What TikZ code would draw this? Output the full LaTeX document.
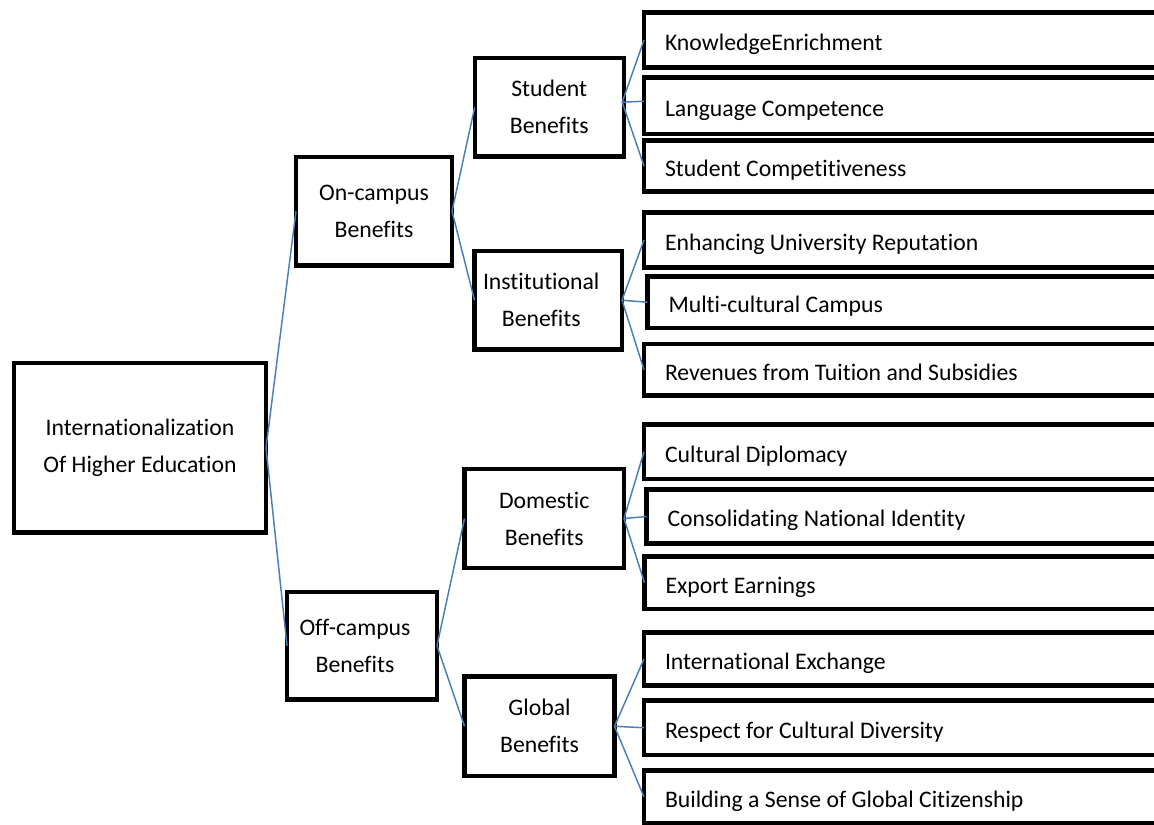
\documentclass[tikz,border=0pt]{standalone}
\usepackage{fontspec}
\setmainfont{Carlito}[Ligatures=NoCommon]
\usetikzlibrary{calc}
\definecolor{connblue}{HTML}{4A7EBB}
\begin{document}
\begin{tikzpicture}[x=0.75pt,y=-0.75pt,
  every node/.style={font=\fontsize{17.8}{27.75}\selectfont},
  box/.style={draw=black, line width=3.3pt, outer sep=0pt, inner sep=0pt, align=center, fill=white},
  leaf/.style={draw=black, line width=3.3pt, outer sep=0pt, inner xsep=15.75pt, inner ysep=0pt,
    anchor=west, text width=420pt, align=flush left, fill=white, text height=15.8pt, text depth=0.3pt},
  conn/.style={draw=connblue, line width=1.1pt}
]
\useasboundingbox (0,0) rectangle (1154,825);
\fill[white] (0,0) rectangle (1154,825);
\begin{scope}
\clip (0,0) rectangle (1154,825);
% main boxes
\node[box, minimum width=252*0.75pt, minimum height=169.5*0.75pt] (root) at (140,447.75) {Internationalization\\Of Higher Education};
\node[box, minimum width=156*0.75pt, minimum height=108.5*0.75pt] (on) at (374,211.25) {On-campus\\Benefits};
\node[box, minimum width=150*0.75pt, minimum height=107.5*0.75pt] (off) at (362,645.75) {\hspace*{-10.5pt}Off-campus\\\hspace*{-10.5pt}Benefits};
\node[box, minimum width=149*0.75pt, minimum height=98.3*0.75pt] (sb) at (549.2,107.15) {Student\\Benefits};
\node[box, minimum width=147.5*0.75pt, minimum height=98.5*0.75pt] (ib) at (548.25,300.25) {\hspace*{-10.5pt}Institutional\\\hspace*{-10.5pt}Benefits};
\node[box, minimum width=159.5*0.75pt, minimum height=99*0.75pt] (db) at (544.25,518.5) {Domestic\\Benefits};
\node[box, minimum width=150*0.75pt, minimum height=99.5*0.75pt] (gb) at (539.5,726.25) {Global\\Benefits};
% leaves
\node[leaf, minimum height=55*0.75pt] (k1) at (644,40) {KnowledgeEnrichment};
\node[leaf, minimum height=56.5*0.75pt] (k2) at (644,105.75) {Language Competence};
\node[leaf, minimum height=51*0.75pt] (k3) at (644,166) {Student Competitiveness};
\node[leaf, minimum height=55*0.75pt] (k4) at (644,240) {Enhancing University Reputation};
\node[leaf, minimum height=51.5*0.75pt] (k5) at (647.5,302.25) {Multi-cultural Campus};
\node[leaf, minimum height=51.5*0.75pt] (k6) at (644,369.75) {Revenues from Tuition and Subsidies};
\node[leaf, minimum height=54.5*0.75pt] (k7) at (644,451.75) {Cultural Diplomacy};
\node[leaf, minimum height=54*0.75pt] (k8) at (646.5,516.5) {Consolidating National Identity};
\node[leaf, minimum height=52.5*0.75pt] (k9) at (644.5,582.75) {Export Earnings};
\node[leaf, minimum height=53*0.75pt] (k10) at (644,659) {International Exchange};
\node[leaf, minimum height=54.5*0.75pt] (k11) at (644,727.75) {Respect for Cultural Diversity};
\node[leaf, minimum height=53*0.75pt] (k12) at (644,797) {Building a Sense of Global Citizenship};
% connectors
\draw[conn] (root.east) -- (on.west);
\draw[conn] (root.east) -- (off.west);
\draw[conn] (on.east) -- (sb.west);
\draw[conn] (on.east) -- (ib.west);
\draw[conn] (off.east) -- (db.west);
\draw[conn] (off.east) -- (gb.west);
\coordinate (sj) at ($(sb.east)+(-1.5,-5)$);
\draw[conn] (sj) -- (k1.west);
\draw[conn] (sj) -- ($(k2.west)+(0,-4.5)$);
\draw[conn] (sj) -- (k3.west);
\draw[conn] (ib.east) -- (k4.west);
\draw[conn] (ib.east) -- (k5.west);
\draw[conn] (ib.east) -- (k6.west);
\draw[conn] (db.east) -- (k7.west);
\draw[conn] (db.east) -- (k8.west);
\draw[conn] (db.east) -- (k9.west);
\draw[conn] (gb.east) -- (k10.west);
\draw[conn] (gb.east) -- (k11.west);
\draw[conn] (gb.east) -- (k12.west);
\end{scope}
\end{tikzpicture}
\end{document}
